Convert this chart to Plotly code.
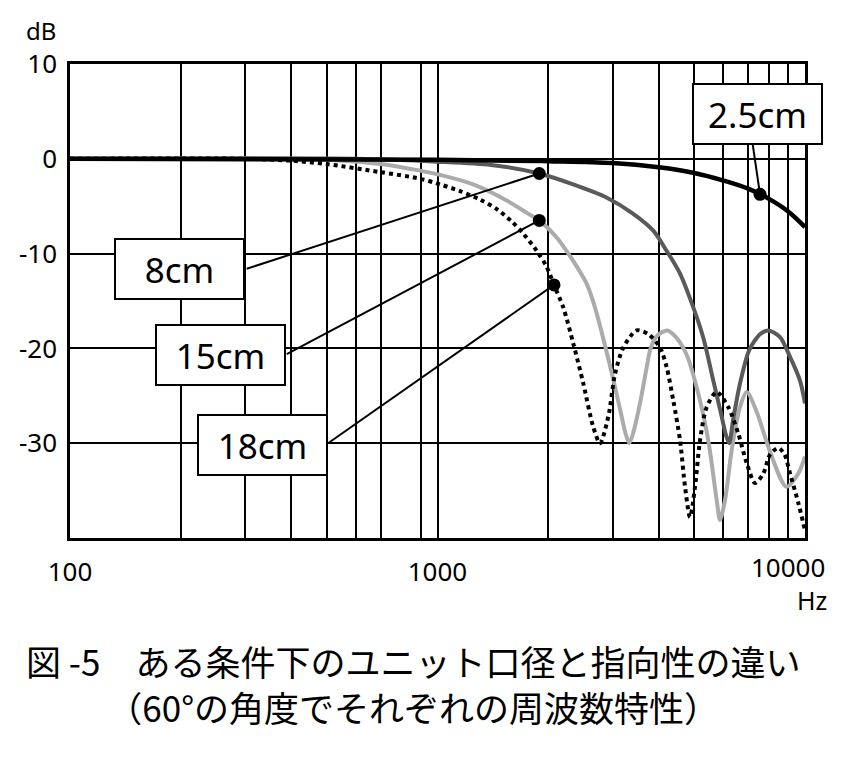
import numpy as np
import plotly.graph_objects as go

# ---- data ----
x_grid = [100, 200, 300, 400, 500, 600, 700, 900,
          1000, 2000, 3000, 4000, 5000, 6000, 7000, 8000, 9000, 10000]
x_ticktext = ["100", "", "", "", "", "", "", "",
              "1000", "", "", "", "", "", "", "", "", ""]
y_grid = [10, 0, -10, -20, -30, -40]
y_ticktext = ["10", "0", "-10", "-20", "-30", ""]

s25_f = [100, 1000, 2000, 3000, 4000, 5000, 6000, 7000, 8000, 9000, 10000]
s25_db = [0, -0.1, -0.25, -0.45, -0.9, -1.5, -2.3, -3.15, -4.25, -5.55, -7.2]

s8_f = [100, 600, 1000, 1400, 1892, 2340, 2890, 3410, 3870, 4200, 4570, 4970, 5290,
        5630, 5934, 6100, 6220, 6370, 6655, 7047, 7544, 7946, 8551, 9105, 9691, 10000]
s8_db = [0, 0, -0.3, -0.65, -1.55, -2.7, -4.1, -5.8, -7.6, -9.7, -12.1, -15.7, -18.9,
         -23.4, -27.2, -29.2, -30, -27.6, -23.7, -20.2, -18.5, -18.1, -18.8, -20.9, -23.4, -25.8]

s15_f = [100, 400, 550, 700, 896, 1016, 1250, 1543, 1750, 1892, 2110, 2342, 2547, 2683,
         2870, 3009, 3138, 3250, 3326, 3420, 3556, 3709, 3800, 3950, 4220, 4450, 4767,
         5180, 5470, 5750, 5871, 6058, 6318, 6652, 6940, 7390, 8032, 8900, 9590, 10000]
s15_db = [0, 0, -0.2, -0.55, -1.25, -1.7, -2.7, -4.4, -5.7, -6.5, -8.3, -10.8, -13.2, -15.7,
          -20, -23.3, -26.4, -29, -30, -28.7, -25.8, -22, -20, -18.7, -18.1, -18.8, -20.7,
          -25.5, -30, -36, -38.1, -36, -30.7, -26.2, -24.6, -26.7, -30.9, -34.6, -33.2, -31.4]

s18_f = [100, 300, 400, 500, 697, 896, 1016, 1151, 1305, 1449, 1592, 1712, 1862, 1982,
         2075, 2200, 2342, 2493, 2654, 2768, 2916, 3041, 3204, 3484, 3746, 4031, 4204,
         4381, 4571, 4716, 4866, 5020, 5180, 5401, 5750, 6185, 6585, 6940, 7311, 7701,
         8032, 8460, 8800, 9105, 9590, 10000]
s18_db = [0, 0, -0.2, -0.56, -1.4, -2.1, -2.7, -3.4, -4.3, -5.3, -6.6, -7.9, -9.7, -11.4,
          -13.3, -15.7, -19.5, -23.7, -28.3, -30, -27.2, -22.7, -19.9, -18.1, -18.5, -19.9, -22,
          -25.5, -29.7, -34.6, -37.8, -34.6, -29.7, -26.2, -24.6, -26.2, -29, -32.1, -34.2, -33.2,
          -31.2, -30.5, -31.2, -33.2, -36.3, -39.2]

# label boxes (order: 2.5cm, 8cm, 15cm, 18cm)
lab_text = ["2.5cm", "8cm", "15cm", "18cm"]
lab_f = [7426, 199, 256.7, 335]
lab_db = [4.74, -11.6, -20.7, -30.2]
# leader line start (box edge) and end (dot on curve)
lead_f = [7205, 302.6, 388.8, 503.6]
lead_db = [1.55, -11.6, -20.6, -30.0]
dot_f = [7544, 1892, 1892, 2075]
dot_db = [-3.75, -1.55, -6.5, -13.3]

title_1 = "図 -5\u3000ある条件下のユニット口径と指向性の違い"
title_2 = "（60°の角度でそれぞれの周波数特性）"

NUM_FONT = "Noto Sans"
JP_FONT = "Noto Sans CJK JP"

fig = go.Figure()

fig.add_trace(go.Scatter(x=s15_f, y=s15_db, mode="lines",
                         line=dict(color="#ababab", width=4, shape="spline", smoothing=0.8)))
fig.add_trace(go.Scatter(x=s8_f, y=s8_db, mode="lines",
                         line=dict(color="#5a5a5a", width=4, shape="spline", smoothing=0.8)))
fig.add_trace(go.Scatter(x=s18_f, y=s18_db, mode="lines",
                         line=dict(color="#000000", width=4, dash="dot", shape="spline", smoothing=0.8)))
fig.add_trace(go.Scatter(x=s25_f, y=s25_db, mode="lines",
                         line=dict(color="#000000", width=4.5, shape="spline", smoothing=1.0)))

for i in range(len(lab_text)):
    fig.add_trace(go.Scatter(x=[lead_f[i], dot_f[i]], y=[lead_db[i], dot_db[i]], mode="lines",
                             line=dict(color="#000000", width=2)))

fig.add_trace(go.Scatter(x=dot_f, y=dot_db, mode="markers",
                         marker=dict(color="#000000", size=13, line=dict(width=0))))

annotations = []
for i in range(len(lab_text)):
    annotations.append(dict(x=np.log10(lab_f[i]), y=lab_db[i], xref="x", yref="y",
                            text=lab_text[i], showarrow=False,
                            font=dict(family=NUM_FONT, size=35, color="black"),
                            bgcolor="white", bordercolor="black", borderwidth=2,
                            borderpad=0, width=127, height=58))

annotations += [
    dict(x=0.9762, y=-0.0622, xref="paper", yref="paper", text="10000", showarrow=False,
         xanchor="center", yanchor="middle", font=dict(family=NUM_FONT, size=26, color="black")),
    dict(x=1.0091, y=-0.1300, xref="paper", yref="paper", text="Hz", showarrow=False,
         xanchor="center", yanchor="middle", font=dict(family=NUM_FONT, size=25, color="black")),
    dict(x=-0.0395, y=1.0717, xref="paper", yref="paper", text="dB", showarrow=False,
         xanchor="center", yanchor="middle", font=dict(family=NUM_FONT, size=24, color="black")),
    dict(x=0.4667, y=-0.308, xref="paper", yref="paper", text=title_1 + "<br>" + title_2,
         showarrow=False, align="center",
         xanchor="center", yanchor="middle", font=dict(family=JP_FONT, size=35, color="black")),
]

# the page adds an 8px body margin, so the figure is 8px smaller on each axis
fig.update_layout(
    width=837, height=756,
    margin=dict(l=62, r=40, t=56, b=226),
    paper_bgcolor="white", plot_bgcolor="white",
    showlegend=False,
    annotations=annotations,
    xaxis=dict(type="log", range=[2, 4], tickmode="array", tickvals=x_grid, ticktext=x_ticktext,
               showgrid=True, gridcolor="black", gridwidth=2,
               showline=True, linecolor="black", linewidth=2.5, mirror=True,
               ticks="", ticklabelstandoff=9, zeroline=False,
               tickfont=dict(family=NUM_FONT, size=26, color="black")),
    yaxis=dict(range=[-40, 10], tickmode="array", tickvals=y_grid, ticktext=y_ticktext,
               showgrid=True, gridcolor="black", gridwidth=2,
               showline=True, linecolor="black", linewidth=2.5, mirror=True,
               ticks="", ticklabelstandoff=5, zeroline=False,
               tickfont=dict(family=NUM_FONT, size=26, color="black")),
)

fig.write_html("out.html", config={"displayModeBar": False})
